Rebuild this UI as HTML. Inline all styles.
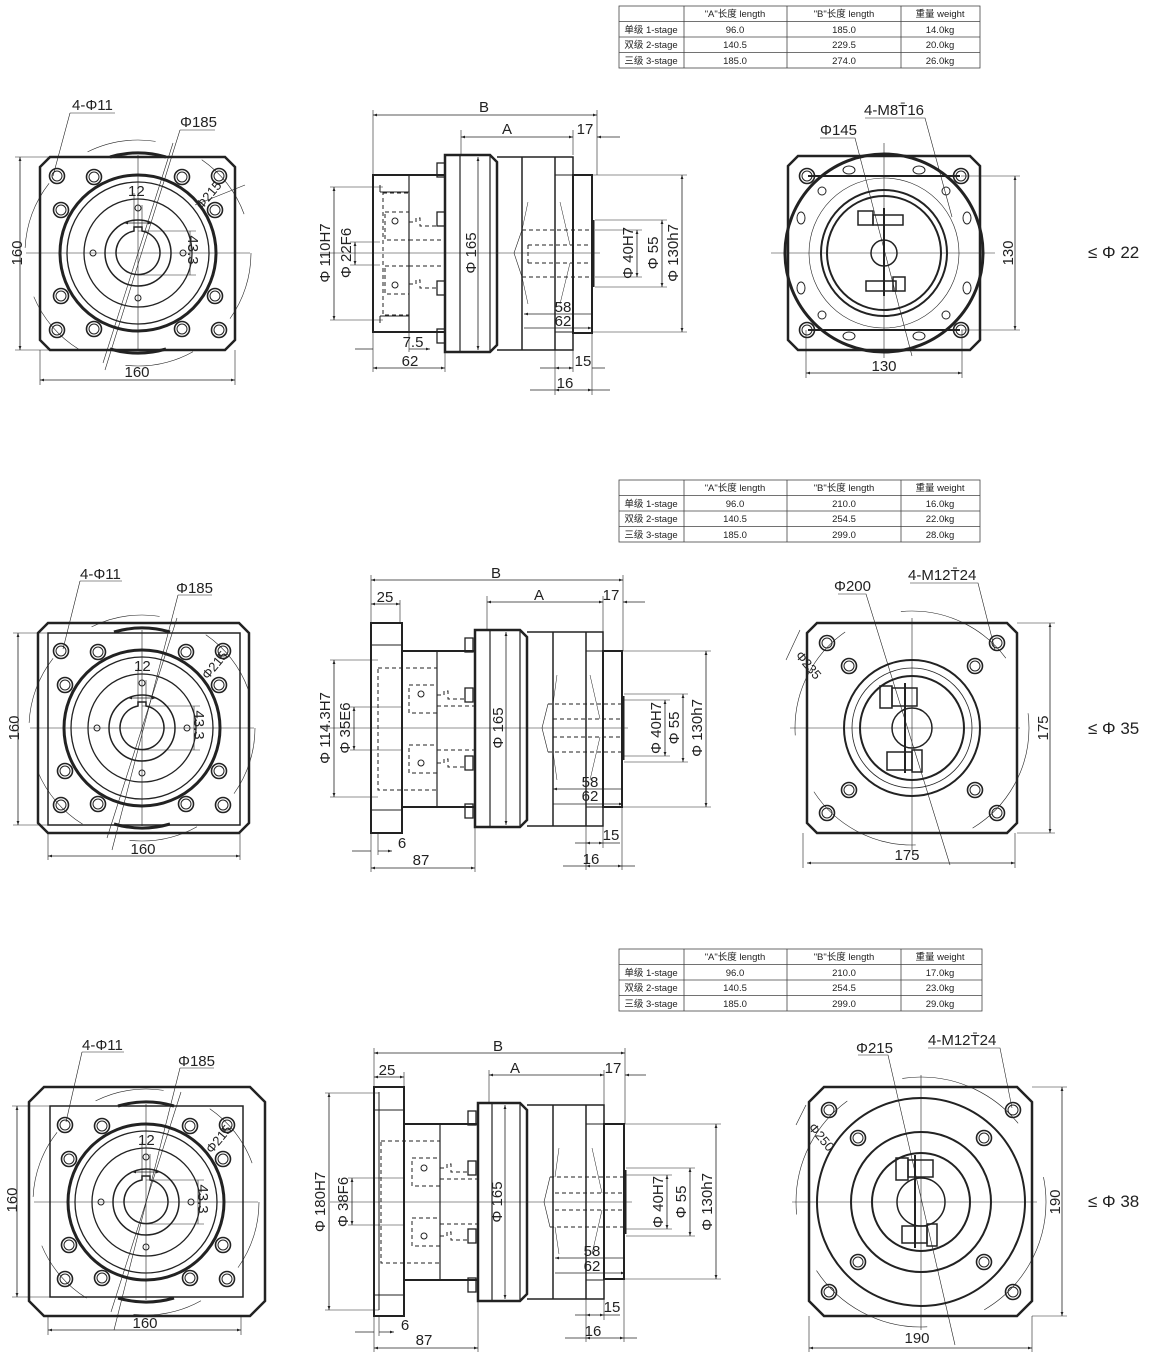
<!DOCTYPE html>
<html><head><meta charset="utf-8"><style>
html,body{margin:0;padding:0;background:#fff;}
svg{display:block;}
text{font-family:"Liberation Sans","Noto Sans CJK SC",sans-serif;fill:#222;}
.t{font-size:15px;}
.tb{font-size:9.5px;}
</style></head><body>
<svg width="1150" height="1360" viewBox="0 0 1150 1360" xmlns="http://www.w3.org/2000/svg">
<defs>
<marker id="ar" viewBox="0 0 10 10" refX="10" refY="5" markerWidth="7" markerHeight="5" orient="auto-start-reverse"><path d="M0,1.5 L10,5 L0,8.5 Z" fill="#222"/></marker>
<g id="bh"><circle r="7.5" fill="none" stroke="#222" stroke-width="1.6"/><circle r="5" fill="none" stroke="#222" stroke-width="1"/></g>
<g id="lv" fill="none" stroke="#222">
<circle r="113" stroke-width="0.6" stroke-dasharray="70 50"/>
<path d="M-28,-96 A100,100 0 0 1 28,-96" stroke-width="3"/>
<path d="M-28,96 A100,100 0 0 0 28,96" stroke-width="3"/>
<circle r="78" stroke-width="3"/>
<circle r="71" stroke-width="1.3"/>
<circle r="54" stroke-width="1.3"/>
<circle r="33" stroke-width="1.5"/>
<path d="M-4,-22 V-26 H4 V-22 A22,22 0 1 1 -4,-22 Z" stroke-width="1.5"/>
<circle cx="0" cy="-45" r="3"/><circle cx="0" cy="45" r="3"/><circle cx="-45" cy="0" r="3"/><circle cx="45" cy="0" r="3"/>
<use href="#bh" x="-81" y="-77"/><use href="#bh" x="81" y="-77"/><use href="#bh" x="-81" y="77"/><use href="#bh" x="81" y="77"/>
<use href="#bh" x="-44" y="-76"/><use href="#bh" x="44" y="-76"/><use href="#bh" x="-44" y="76"/><use href="#bh" x="44" y="76"/>
<use href="#bh" x="-77" y="-43"/><use href="#bh" x="77" y="-43"/><use href="#bh" x="-77" y="43"/><use href="#bh" x="77" y="43"/>
<path d="M-112,0 H112 M0,-98 V98" stroke-width="0.6"/>
<path d="M-14,-30 L14,-30" stroke-width="0.8" marker-start="url(#ar)" marker-end="url(#ar)"/>
<path d="M-4,-26 V-60 M4,-26 V-48" stroke-width="0.6"/>
<path d="M0,-22 H58 M0,22 H58 M52,-22 V22" stroke-width="0.6"/>
<path d="M-35,110 L35,-110" stroke-width="0.6"/>
</g>
</defs>

<!-- TABLES -->
<g stroke="#444" stroke-width="0.8" fill="none">
<rect x="619" y="6" width="361" height="62"/><path d="M619,21.5H980M619,37H980M619,52.5H980M684,6V68M787,6V68M901,6V68"/>
<rect x="619" y="480" width="361" height="62"/><path d="M619,495.5H980M619,511H980M619,526.5H980M684,480V542M787,480V542M901,480V542"/>
<rect x="619" y="949" width="363" height="62"/><path d="M619,964.5H982M619,980H982M619,995.5H982M684,949V1011M787,949V1011M901,949V1011"/>
</g>
<g class="tb" text-anchor="middle">
<text x="735" y="17">"A"长度 length</text><text x="844" y="17">"B"长度  length</text><text x="940" y="17">重量 weight</text>
<text x="651" y="33">单级 1-stage</text><text x="735" y="33">96.0</text><text x="844" y="33">185.0</text><text x="940" y="33">14.0kg</text>
<text x="651" y="48">双级 2-stage</text><text x="735" y="48">140.5</text><text x="844" y="48">229.5</text><text x="940" y="48">20.0kg</text>
<text x="651" y="64">三级 3-stage</text><text x="735" y="64">185.0</text><text x="844" y="64">274.0</text><text x="940" y="64">26.0kg</text>

<text x="735" y="491">"A"长度 length</text><text x="844" y="491">"B"长度  length</text><text x="940" y="491">重量 weight</text>
<text x="651" y="507">单级 1-stage</text><text x="735" y="507">96.0</text><text x="844" y="507">210.0</text><text x="940" y="507">16.0kg</text>
<text x="651" y="522">双级 2-stage</text><text x="735" y="522">140.5</text><text x="844" y="522">254.5</text><text x="940" y="522">22.0kg</text>
<text x="651" y="538">三级 3-stage</text><text x="735" y="538">185.0</text><text x="844" y="538">299.0</text><text x="940" y="538">28.0kg</text>

<text x="735" y="960">"A"长度 length</text><text x="844" y="960">"B"长度  length</text><text x="940" y="960">重量 weight</text>
<text x="651" y="976">单级 1-stage</text><text x="735" y="976">96.0</text><text x="844" y="976">210.0</text><text x="940" y="976">17.0kg</text>
<text x="651" y="991">双级 2-stage</text><text x="735" y="991">140.5</text><text x="844" y="991">254.5</text><text x="940" y="991">23.0kg</text>
<text x="651" y="1007">三级 3-stage</text><text x="735" y="1007">185.0</text><text x="844" y="1007">299.0</text><text x="940" y="1007">29.0kg</text>
</g>

<!-- ================= ROW 1 ================= -->
<g fill="none" stroke="#222">
<path d="M50,157 H225 L235,167 V340 L225,350 H50 L40,340 V167 Z" stroke-width="2.5"/>
<use href="#lv" x="138" y="253"/>
<!-- dims -->
<path d="M20,157 V350" stroke-width="0.8" marker-start="url(#ar)" marker-end="url(#ar)"/>
<path d="M15,157 H50 M15,350 H50" stroke-width="0.6"/>
<path d="M40,380 H235" stroke-width="0.8" marker-start="url(#ar)" marker-end="url(#ar)"/>
<path d="M40,350 V385 M235,350 V385" stroke-width="0.6"/>
<path d="M70,113 H115 M70,113 L53,176" stroke-width="0.6"/>
<path d="M180,130 H215 M180,130 L105,370" stroke-width="0.6"/>
<path d="M195,205 L245,185" stroke-width="0.6"/>
</g>
<g class="t">
<text x="72" y="110">4-Φ11</text><text x="180" y="127">Φ185</text>
<text x="128" y="196">12</text>
<text transform="translate(188,250) rotate(90)" text-anchor="middle">43.3</text>
<text transform="translate(212,198) rotate(-50)" text-anchor="middle" font-size="13">Φ215</text>
<text transform="translate(22,253) rotate(-90)" text-anchor="middle">160</text>
<text x="137" y="377" text-anchor="middle">160</text>
</g>

<!-- middle view row1 -->
<g fill="none" stroke="#222">
<rect x="373" y="175" width="72" height="157" stroke-width="2"/>
<path d="M409,175 V332" stroke-width="1.2"/>
<path d="M380,192 H409 M380,316 H409 M380,185 V192 M380,316 V323" stroke-width="1"/>
<rect x="383" y="193" width="26" height="122" stroke-width="1" stroke-dasharray="4 3"/>
<rect x="385" y="212" width="24" height="28" stroke-width="1" stroke-dasharray="4 3"/>
<rect x="385" y="266" width="24" height="28" stroke-width="1" stroke-dasharray="4 3"/>
<circle cx="395" cy="221" r="3"/><circle cx="395" cy="285" r="3"/>
<path d="M409,222 H416 V218 H420 V226 H437 M409,284 H416 V280 H420 V288 H437 M409,240 H445 M409,266 H445" stroke-width="1" stroke-dasharray="4 3"/>
<rect x="437" y="163" width="8" height="14" stroke-width="1.3"/>
<rect x="437" y="212" width="8" height="14" stroke-width="1.3"/>
<rect x="437" y="281" width="8" height="14" stroke-width="1.3"/>
<rect x="437" y="329" width="8" height="14" stroke-width="1.3"/>
<path d="M445,155 H490 L497,162 V345 L490,352 H445 Z" stroke-width="2.5"/>
<path d="M460,155 V352 M490,155 V352" stroke-width="1.2"/>
<path d="M497,157 H573 V350 H497 M522,157 V350 M555,157 V350" stroke-width="1.5"/>
<path d="M555,175 H573 M555,332 H573" stroke-width="1"/>
<rect x="573" y="175" width="19" height="158" stroke-width="2"/>
<path d="M593,220 V287" stroke-width="3"/>
<path d="M522,230 H592 M522,277 H592 M528,245 H592 M528,263 H592 M528,245 V263" stroke-width="1" stroke-dasharray="4 3"/>
<path d="M522,230 L514,253 L522,277" stroke-width="0.6"/>
<path d="M528,202 L522,230 M528,304 L522,277 M560,202 L570,245 M560,304 L570,263" stroke-width="0.5"/>
<path d="M320,253 H600" stroke-width="0.5"/>
<!-- dims -->
<path d="M373,115 H597" stroke-width="0.8" marker-start="url(#ar)" marker-end="url(#ar)"/>
<path d="M373,110 V175 M597,110 V175 M461,130 V155 M573,130 V155" stroke-width="0.6"/>
<path d="M461,137 H573" stroke-width="0.8" marker-start="url(#ar)" marker-end="url(#ar)"/>
<path d="M597,137 H620" stroke-width="0.8" marker-start="url(#ar)"/>
<path d="M334,187 V320" stroke-width="0.8" marker-start="url(#ar)" marker-end="url(#ar)"/>
<path d="M330,187 H383 M330,320 H383" stroke-width="0.6"/>
<path d="M355,242 V265" stroke-width="0.8" marker-start="url(#ar)" marker-end="url(#ar)"/>
<path d="M350,242 H380 M350,265 H380" stroke-width="0.6"/>
<path d="M478,157 V350" stroke-width="0.8" marker-start="url(#ar)" marker-end="url(#ar)"/>
<path d="M637,230 V277" stroke-width="0.8" marker-start="url(#ar)" marker-end="url(#ar)"/>
<path d="M595,230 H642 M595,277 H642" stroke-width="0.6"/>
<path d="M662,220 V287" stroke-width="0.8" marker-start="url(#ar)" marker-end="url(#ar)"/>
<path d="M595,220 H667 M595,287 H667" stroke-width="0.6"/>
<path d="M682,175 V332" stroke-width="0.8" marker-start="url(#ar)" marker-end="url(#ar)"/>
<path d="M592,175 H687 M592,332 H687" stroke-width="0.6"/>
<path d="M524,314 H592 M524,328 H592" stroke-width="0.8" marker-start="url(#ar)" marker-end="url(#ar)"/>
<path d="M355,349 H373 M409,349 H430" stroke-width="0.8" marker-end="url(#ar)"/>
<path d="M373,332 V372 M409,332 V352 M445,352 V372" stroke-width="0.6"/>
<path d="M373,368 H445" stroke-width="0.8" marker-start="url(#ar)" marker-end="url(#ar)"/>
<path d="M540,368 H555 M592,368 H605" stroke-width="0.8"/>
<path d="M555,368 H573" stroke-width="0.8" marker-start="url(#ar)" marker-end="url(#ar)"/>
<path d="M555,350 V395 M573,350 V372 M592,333 V395" stroke-width="0.6"/>
<path d="M530,390 H555 M592,390 H610" stroke-width="0.8"/>
<path d="M555,390 H592" stroke-width="0.8" marker-start="url(#ar)" marker-end="url(#ar)"/>
</g>
<g class="t">
<text x="484" y="112" text-anchor="middle">B</text><text x="507" y="134" text-anchor="middle">A</text><text x="585" y="134" text-anchor="middle">17</text>
<text transform="translate(330,253) rotate(-90)" text-anchor="middle">Φ 110H7</text>
<text transform="translate(351,253) rotate(-90)" text-anchor="middle">Φ 22F6</text>
<text transform="translate(476,253) rotate(-90)" text-anchor="middle">Φ 165</text>
<text transform="translate(633,253) rotate(-90)" text-anchor="middle">Φ 40H7</text>
<text transform="translate(658,253) rotate(-90)" text-anchor="middle">Φ 55</text>
<text transform="translate(678,253) rotate(-90)" text-anchor="middle">Φ 130h7</text>
<text x="563" y="312" text-anchor="middle">58</text><text x="563" y="326" text-anchor="middle">62</text>
<text x="413" y="347" text-anchor="middle">7.5</text><text x="410" y="366" text-anchor="middle">62</text>
<text x="583" y="366" text-anchor="middle">15</text><text x="565" y="388" text-anchor="middle">16</text>
</g>

<!-- right view row1 -->
<g fill="none" stroke="#222">
<path d="M798,156 H970 L980,166 V340 L970,350 H798 L788,340 V166 Z" stroke-width="2.5"/>
<circle cx="884" cy="253" r="99" stroke-width="3"/>
<path d="M808,176 H960 M808,330 H960" stroke-width="2"/>
<circle cx="884" cy="253" r="75" stroke-width="0.6"/>
<circle cx="884" cy="253" r="63" stroke-width="2"/>
<circle cx="884" cy="253" r="57" stroke-width="2"/>
<circle cx="884" cy="253" r="13" stroke-width="1.5"/>
<rect x="858" y="211" width="15" height="14" stroke-width="1.5"/><rect x="873" y="215" width="30" height="10" stroke-width="1.5"/>
<rect x="866" y="281" width="30" height="10" stroke-width="1.5"/><rect x="893" y="277" width="12" height="14" stroke-width="1.5"/>
<path d="M884,208 V296" stroke-width="2"/>
<use href="#bh" x="807" y="176"/><use href="#bh" x="961" y="176"/><use href="#bh" x="807" y="330"/><use href="#bh" x="961" y="330"/>
<circle cx="822" cy="191" r="4"/><circle cx="946" cy="191" r="4"/><circle cx="822" cy="315" r="4"/><circle cx="946" cy="315" r="4"/>
<ellipse cx="849" cy="170" rx="6" ry="4"/><ellipse cx="919" cy="170" rx="6" ry="4"/><ellipse cx="849" cy="336" rx="6" ry="4"/><ellipse cx="919" cy="336" rx="6" ry="4"/>
<ellipse cx="801" cy="218" rx="4" ry="6"/><ellipse cx="967" cy="218" rx="4" ry="6"/><ellipse cx="801" cy="288" rx="4" ry="6"/><ellipse cx="967" cy="288" rx="4" ry="6"/>
<path d="M771,253 H995 M884,143 V358" stroke-width="0.6"/>
<path d="M820,138 H855 L912,356" stroke-width="0.6"/>
<path d="M865,118 H925 L952,217" stroke-width="0.6"/>
<path d="M1015,176 V330" stroke-width="0.8" marker-start="url(#ar)" marker-end="url(#ar)"/>
<path d="M961,176 H1020 M961,330 H1020" stroke-width="0.6"/>
<path d="M806,373 H962" stroke-width="0.8" marker-start="url(#ar)" marker-end="url(#ar)"/>
<path d="M806,330 V378 M962,330 V378" stroke-width="0.6"/>
</g>
<g class="t">
<text x="864" y="115">4-M8T̄16</text><text x="820" y="135">Φ145</text>
<text transform="translate(1013,253) rotate(-90)" text-anchor="middle">130</text>
<text x="884" y="371" text-anchor="middle">130</text>
<text x="1088" y="258" font-size="17">≤ Φ 22</text>
</g>

<!-- ================= ROW 2 ================= -->
<g fill="none" stroke="#222">
<path d="M48,623 H239 L249,633 V823 L239,833 H48 L38,823 V633 Z" stroke-width="2.5"/>
<rect x="48" y="633" width="192" height="192" stroke-width="1.5"/>
<use href="#lv" x="142" y="728"/>
<path d="M18,633 V825" stroke-width="0.8" marker-start="url(#ar)" marker-end="url(#ar)"/>
<path d="M13,633 H48 M13,825 H48" stroke-width="0.6"/>
<path d="M48,856 H240" stroke-width="0.8" marker-start="url(#ar)" marker-end="url(#ar)"/>
<path d="M48,833 V860 M240,833 V860" stroke-width="0.6"/>
<path d="M80,581 H122 M80,581 L63,649" stroke-width="0.6"/>
<path d="M178,595 H212 M178,595 L112,850" stroke-width="0.6"/>
</g>
<g class="t">
<text x="80" y="579">4-Φ11</text><text x="176" y="593">Φ185</text>
<text x="134" y="671">12</text>
<text transform="translate(194,725) rotate(90)" text-anchor="middle">43.3</text>
<text transform="translate(218,668) rotate(-50)" text-anchor="middle" font-size="13">Φ215</text>
<text transform="translate(19,728) rotate(-90)" text-anchor="middle">160</text>
<text x="143" y="854" text-anchor="middle">160</text>
</g>

<g fill="none" stroke="#222">
<rect x="371" y="623" width="31" height="210" stroke-width="2"/>
<path d="M371,645 H402 M371,810 H402" stroke-width="1"/>
<rect x="402" y="651" width="73" height="156" stroke-width="2"/>
<path d="M437,651 V807" stroke-width="1.2"/>
<rect x="378" y="668" width="59" height="122" stroke-width="1" stroke-dasharray="4 3"/>
<rect x="409" y="685" width="28" height="28" stroke-width="1" stroke-dasharray="4 3"/>
<rect x="409" y="745" width="28" height="28" stroke-width="1" stroke-dasharray="4 3"/>
<circle cx="421" cy="694" r="3"/><circle cx="421" cy="763" r="3"/>
<path d="M437,695 H444 V691 H448 V699 H466 M437,763 H444 V759 H448 V767 H466 M437,706 H475 M437,750 H475" stroke-width="1" stroke-dasharray="4 3"/>
<rect x="465" y="638" width="8" height="14" stroke-width="1.3"/>
<rect x="465" y="688" width="8" height="14" stroke-width="1.3"/>
<rect x="465" y="756" width="8" height="14" stroke-width="1.3"/>
<rect x="465" y="804" width="8" height="14" stroke-width="1.3"/>
<path d="M475,630 H520 L527,637 V820 L520,827 H475 Z" stroke-width="2.5"/>
<path d="M490,630 V827 M520,630 V827" stroke-width="1.2"/>
<path d="M527,632 H603 V826 H527 M553,632 V826 M586,632 V826" stroke-width="1.5"/>
<path d="M586,651 H603 M586,807 H603" stroke-width="1"/>
<rect x="603" y="651" width="19" height="156" stroke-width="2"/>
<path d="M623,696 V760" stroke-width="3"/>
<path d="M548,704 H622 M548,752 H622 M553,719 H622 M553,737 H622" stroke-width="1" stroke-dasharray="4 3"/>
<path d="M548,704 L542,728 L548,752" stroke-width="0.6"/>
<path d="M557,675 L553,704 M557,780 L553,752 M590,675 L600,719 M590,780 L600,737" stroke-width="0.5"/>
<path d="M320,728 H628" stroke-width="0.5"/>
<path d="M371,580 H623" stroke-width="0.8" marker-start="url(#ar)" marker-end="url(#ar)"/>
<path d="M371,575 V623 M623,575 V651 M487,596 V630 M603,596 V632 M400,600 V623" stroke-width="0.6"/>
<path d="M487,602 H603" stroke-width="0.8" marker-start="url(#ar)" marker-end="url(#ar)"/>
<path d="M371,604 H400" stroke-width="0.8" marker-start="url(#ar)" marker-end="url(#ar)"/>
<path d="M623,602 H645" stroke-width="0.8" marker-start="url(#ar)"/>
<path d="M334,660 V797" stroke-width="0.8" marker-start="url(#ar)" marker-end="url(#ar)"/>
<path d="M330,660 H378 M330,797 H378" stroke-width="0.6"/>
<path d="M354,707 V750" stroke-width="0.8" marker-start="url(#ar)" marker-end="url(#ar)"/>
<path d="M350,707 H402 M350,750 H402" stroke-width="0.6"/>
<path d="M506,632 V825" stroke-width="0.8" marker-start="url(#ar)" marker-end="url(#ar)"/>
<path d="M665,700 V756" stroke-width="0.8" marker-start="url(#ar)" marker-end="url(#ar)"/>
<path d="M624,700 H670 M624,756 H670" stroke-width="0.6"/>
<path d="M683,694 V762" stroke-width="0.8" marker-start="url(#ar)" marker-end="url(#ar)"/>
<path d="M624,694 H688 M624,762 H688" stroke-width="0.6"/>
<path d="M706,651 V807" stroke-width="0.8" marker-start="url(#ar)" marker-end="url(#ar)"/>
<path d="M622,651 H711 M622,807 H711" stroke-width="0.6"/>
<path d="M553,789 H623 M553,804 H623" stroke-width="0.8" marker-start="url(#ar)" marker-end="url(#ar)"/>
<path d="M352,851 H371 M378,851 H392" stroke-width="0.8" marker-end="url(#ar)"/>
<path d="M371,833 V872 M378,833 V855 M475,827 V872" stroke-width="0.6"/>
<path d="M371,868 H475" stroke-width="0.8" marker-start="url(#ar)" marker-end="url(#ar)"/>
<path d="M575,843 H586 M603,843 H620" stroke-width="0.8"/>
<path d="M586,843 H603" stroke-width="0.8" marker-start="url(#ar)" marker-end="url(#ar)"/>
<path d="M586,826 V870 M603,826 V848 M622,807 V870" stroke-width="0.6"/>
<path d="M563,866 H586 M622,866 H635" stroke-width="0.8"/>
<path d="M586,866 H622" stroke-width="0.8" marker-start="url(#ar)" marker-end="url(#ar)"/>
</g>
<g class="t">
<text x="496" y="578" text-anchor="middle">B</text><text x="539" y="600" text-anchor="middle">A</text><text x="611" y="600" text-anchor="middle">17</text>
<text x="385" y="602" text-anchor="middle">25</text>
<text transform="translate(330,728) rotate(-90)" text-anchor="middle">Φ 114.3H7</text>
<text transform="translate(350,728) rotate(-90)" text-anchor="middle">Φ 35E6</text>
<text transform="translate(503,728) rotate(-90)" text-anchor="middle">Φ 165</text>
<text transform="translate(661,728) rotate(-90)" text-anchor="middle">Φ 40H7</text>
<text transform="translate(679,728) rotate(-90)" text-anchor="middle">Φ 55</text>
<text transform="translate(702,728) rotate(-90)" text-anchor="middle">Φ 130h7</text>
<text x="590" y="787" text-anchor="middle">58</text><text x="590" y="801" text-anchor="middle">62</text>
<text x="402" y="848" text-anchor="middle">6</text><text x="421" y="865" text-anchor="middle">87</text>
<text x="611" y="840" text-anchor="middle">15</text><text x="591" y="864" text-anchor="middle">16</text>
</g>

<g fill="none" stroke="#222">
<path d="M817,623 H1007 L1017,633 V823 L1007,833 H817 L807,823 V633 Z" stroke-width="2.5"/>
<circle cx="912" cy="728" r="117" stroke-width="0.6" stroke-dasharray="120 60"/>
<circle cx="912" cy="728" r="68" stroke-width="2"/>
<circle cx="912" cy="728" r="60" stroke-width="0.8"/>
<circle cx="912" cy="728" r="52" stroke-width="2"/>
<circle cx="912" cy="728" r="20" stroke-width="1.5"/>
<rect x="880" y="686" width="12" height="22" stroke-width="1.5"/><rect x="892" y="688" width="25" height="18" stroke-width="1.5"/>
<rect x="887" y="752" width="25" height="18" stroke-width="1.5"/><rect x="912" y="750" width="10" height="22" stroke-width="1.5"/>
<path d="M905,683 V773" stroke-width="2"/>
<use href="#bh" x="827" y="643"/><use href="#bh" x="997" y="643"/><use href="#bh" x="827" y="813"/><use href="#bh" x="997" y="813"/>
<use href="#bh" x="849" y="666"/><use href="#bh" x="975" y="666"/><use href="#bh" x="849" y="790"/><use href="#bh" x="975" y="790"/>
<path d="M790,728 H1020 M912,618 V850" stroke-width="0.6"/>
<path d="M838,594 H866 L950,865" stroke-width="0.6"/>
<path d="M910,583 H978 L995,650" stroke-width="0.6"/>
<path d="M786,660 L800,630" stroke-width="0.6"/>
<path d="M1050,623 V833" stroke-width="0.8" marker-start="url(#ar)" marker-end="url(#ar)"/>
<path d="M1017,623 H1055 M1017,833 H1055" stroke-width="0.6"/>
<path d="M807,863 H1015" stroke-width="0.8" marker-start="url(#ar)" marker-end="url(#ar)"/>
<path d="M803,833 V868 M1015,833 V868" stroke-width="0.6"/>
</g>
<g class="t">
<text x="908" y="580">4-M12T̄24</text><text x="834" y="591">Φ200</text>
<text transform="translate(805,668) rotate(50)" text-anchor="middle" font-size="13">Φ235</text>
<text transform="translate(1048,728) rotate(-90)" text-anchor="middle">175</text>
<text x="907" y="860" text-anchor="middle">175</text>
<text x="1088" y="734" font-size="17">≤ Φ 35</text>
</g>

<!-- ================= ROW 3 ================= -->
<g fill="none" stroke="#222">
<path d="M44,1087 H250 L265,1102 V1301 L250,1316 H44 L29,1301 V1102 Z" stroke-width="2.5"/>
<rect x="50" y="1106" width="193" height="191" stroke-width="1.5"/>
<use href="#lv" x="146" y="1202"/>
<path d="M17,1106 V1297" stroke-width="0.8" marker-start="url(#ar)" marker-end="url(#ar)"/>
<path d="M12,1106 H50 M12,1297 H50" stroke-width="0.6"/>
<path d="M48,1330 H241" stroke-width="0.8" marker-start="url(#ar)" marker-end="url(#ar)"/>
<path d="M48,1316 V1335 M241,1316 V1335" stroke-width="0.6"/>
<path d="M82,1052 H124 M82,1052 L66,1122" stroke-width="0.6"/>
<path d="M180,1068 H214 M180,1068 L114,1330" stroke-width="0.6"/>
</g>
<g class="t">
<text x="82" y="1050">4-Φ11</text><text x="178" y="1066">Φ185</text>
<text x="138" y="1145">12</text>
<text transform="translate(198,1199) rotate(90)" text-anchor="middle">43.3</text>
<text transform="translate(222,1142) rotate(-50)" text-anchor="middle" font-size="13">Φ215</text>
<text transform="translate(17,1200) rotate(-90)" text-anchor="middle">160</text>
<text x="145" y="1328" text-anchor="middle">160</text>
</g>

<g fill="none" stroke="#222">
<rect x="374" y="1087" width="30" height="229" stroke-width="2"/>
<path d="M374,1110 H404 M374,1295 H404 M379,1092 V1310" stroke-width="1"/>
<rect x="404" y="1124" width="74" height="156" stroke-width="2"/>
<path d="M440,1124 V1280" stroke-width="1.2"/>
<rect x="381" y="1141" width="59" height="122" stroke-width="1" stroke-dasharray="4 3"/>
<rect x="412" y="1158" width="28" height="28" stroke-width="1" stroke-dasharray="4 3"/>
<rect x="412" y="1218" width="28" height="28" stroke-width="1" stroke-dasharray="4 3"/>
<circle cx="424" cy="1168" r="3"/><circle cx="424" cy="1236" r="3"/>
<path d="M440,1168 H447 V1164 H451 V1172 H468 M440,1236 H447 V1232 H451 V1240 H468 M440,1179 H478 M440,1224 H478" stroke-width="1" stroke-dasharray="4 3"/>
<rect x="468" y="1111" width="8" height="14" stroke-width="1.3"/>
<rect x="468" y="1161" width="8" height="14" stroke-width="1.3"/>
<rect x="468" y="1229" width="8" height="14" stroke-width="1.3"/>
<rect x="468" y="1278" width="8" height="14" stroke-width="1.3"/>
<path d="M478,1103 H520 L527,1110 V1294 L520,1301 H478 Z" stroke-width="2.5"/>
<path d="M492,1103 V1301 M520,1103 V1301" stroke-width="1.2"/>
<path d="M527,1105 H604 V1299 H527 M553,1105 V1299 M586,1105 V1299" stroke-width="1.5"/>
<path d="M586,1124 H604 M586,1280 H604" stroke-width="1"/>
<rect x="604" y="1124" width="20" height="155" stroke-width="2"/>
<path d="M625,1170 V1234" stroke-width="3"/>
<path d="M550,1177 H624 M550,1227 H624 M555,1193 H624 M555,1210 H624" stroke-width="1" stroke-dasharray="4 3"/>
<path d="M550,1177 L544,1202 L550,1227" stroke-width="0.6"/>
<path d="M559,1148 L555,1177 M559,1254 L555,1227 M592,1148 L602,1193 M592,1254 L602,1210" stroke-width="0.5"/>
<path d="M330,1202 H632" stroke-width="0.5"/>
<path d="M374,1053 H625" stroke-width="0.8" marker-start="url(#ar)" marker-end="url(#ar)"/>
<path d="M374,1048 V1087 M625,1048 V1124 M489,1070 V1103 M604,1070 V1105 M404,1072 V1087" stroke-width="0.6"/>
<path d="M489,1075 H604" stroke-width="0.8" marker-start="url(#ar)" marker-end="url(#ar)"/>
<path d="M374,1077 H404" stroke-width="0.8" marker-start="url(#ar)" marker-end="url(#ar)"/>
<path d="M625,1075 H646" stroke-width="0.8" marker-start="url(#ar)"/>
<path d="M329,1093 V1310" stroke-width="0.8" marker-start="url(#ar)" marker-end="url(#ar)"/>
<path d="M325,1093 H379 M325,1310 H379" stroke-width="0.6"/>
<path d="M352,1178 V1225" stroke-width="0.8" marker-start="url(#ar)" marker-end="url(#ar)"/>
<path d="M348,1178 H404 M348,1225 H404" stroke-width="0.6"/>
<path d="M505,1105 V1299" stroke-width="0.8" marker-start="url(#ar)" marker-end="url(#ar)"/>
<path d="M667,1175 V1229" stroke-width="0.8" marker-start="url(#ar)" marker-end="url(#ar)"/>
<path d="M626,1175 H672 M626,1229 H672" stroke-width="0.6"/>
<path d="M690,1168 V1236" stroke-width="0.8" marker-start="url(#ar)" marker-end="url(#ar)"/>
<path d="M626,1168 H695 M626,1236 H695" stroke-width="0.6"/>
<path d="M716,1124 V1279" stroke-width="0.8" marker-start="url(#ar)" marker-end="url(#ar)"/>
<path d="M624,1124 H721 M624,1279 H721" stroke-width="0.6"/>
<path d="M555,1258 H625 M555,1273 H625" stroke-width="0.8" marker-start="url(#ar)" marker-end="url(#ar)"/>
<path d="M355,1332 H374 M379,1332 H394" stroke-width="0.8" marker-end="url(#ar)"/>
<path d="M374,1316 V1352 M379,1316 V1336 M478,1301 V1352" stroke-width="0.6"/>
<path d="M374,1348 H478" stroke-width="0.8" marker-start="url(#ar)" marker-end="url(#ar)"/>
<path d="M575,1315 H586 M604,1315 H620" stroke-width="0.8"/>
<path d="M586,1315 H604" stroke-width="0.8" marker-start="url(#ar)" marker-end="url(#ar)"/>
<path d="M586,1299 V1342 M604,1299 V1320 M624,1279 V1342" stroke-width="0.6"/>
<path d="M565,1338 H586 M624,1338 H637" stroke-width="0.8"/>
<path d="M586,1338 H624" stroke-width="0.8" marker-start="url(#ar)" marker-end="url(#ar)"/>
</g>
<g class="t">
<text x="498" y="1051" text-anchor="middle">B</text><text x="515" y="1073" text-anchor="middle">A</text><text x="613" y="1073" text-anchor="middle">17</text>
<text x="387" y="1075" text-anchor="middle">25</text>
<text transform="translate(325,1202) rotate(-90)" text-anchor="middle">Φ 180H7</text>
<text transform="translate(348,1202) rotate(-90)" text-anchor="middle">Φ 38F6</text>
<text transform="translate(502,1202) rotate(-90)" text-anchor="middle">Φ 165</text>
<text transform="translate(663,1202) rotate(-90)" text-anchor="middle">Φ 40H7</text>
<text transform="translate(686,1202) rotate(-90)" text-anchor="middle">Φ 55</text>
<text transform="translate(712,1202) rotate(-90)" text-anchor="middle">Φ 130h7</text>
<text x="592" y="1256" text-anchor="middle">58</text><text x="592" y="1271" text-anchor="middle">62</text>
<text x="405" y="1330" text-anchor="middle">6</text><text x="424" y="1345" text-anchor="middle">87</text>
<text x="612" y="1312" text-anchor="middle">15</text><text x="593" y="1336" text-anchor="middle">16</text>
</g>

<g fill="none" stroke="#222">
<path d="M824,1087 H1017 L1032,1102 V1301 L1017,1316 H824 L809,1301 V1102 Z" stroke-width="2.5"/>
<circle cx="921" cy="1202" r="125" stroke-width="0.6" stroke-dasharray="130 60"/>
<circle cx="921" cy="1202" r="104" stroke-width="2"/>
<circle cx="921" cy="1202" r="70" stroke-width="2"/>
<circle cx="921" cy="1202" r="49" stroke-width="2"/>
<circle cx="921" cy="1202" r="24" stroke-width="1.5"/>
<rect x="896" y="1158" width="12" height="22" stroke-width="1.5"/><rect x="908" y="1160" width="25" height="17" stroke-width="1.5"/>
<rect x="902" y="1226" width="25" height="17" stroke-width="1.5"/><rect x="927" y="1224" width="10" height="22" stroke-width="1.5"/>
<path d="M915,1155 V1248" stroke-width="2"/>
<use href="#bh" x="829" y="1110"/><use href="#bh" x="1013" y="1110"/><use href="#bh" x="829" y="1292"/><use href="#bh" x="1013" y="1292"/>
<use href="#bh" x="858" y="1138"/><use href="#bh" x="984" y="1138"/><use href="#bh" x="858" y="1262"/><use href="#bh" x="984" y="1262"/>
<path d="M792,1202 H1037 M921,1075 V1330" stroke-width="0.6"/>
<path d="M858,1055 H888 L955,1345" stroke-width="0.6"/>
<path d="M928,1048 H1000 L1012,1108" stroke-width="0.6"/>
<path d="M796,1125 L806,1105" stroke-width="0.6"/>
<path d="M1062,1087 V1316" stroke-width="0.8" marker-start="url(#ar)" marker-end="url(#ar)"/>
<path d="M1032,1087 H1067 M1032,1316 H1067" stroke-width="0.6"/>
<path d="M809,1348 H1032" stroke-width="0.8" marker-start="url(#ar)" marker-end="url(#ar)"/>
<path d="M809,1316 V1352 M1032,1316 V1352" stroke-width="0.6"/>
</g>
<g class="t">
<text x="928" y="1045">4-M12T̄24</text><text x="856" y="1053">Φ215</text>
<text transform="translate(818,1140) rotate(50)" text-anchor="middle" font-size="13">Φ250</text>
<text transform="translate(1060,1202) rotate(-90)" text-anchor="middle">190</text>
<text x="917" y="1343" text-anchor="middle">190</text>
<text x="1088" y="1207" font-size="17">≤ Φ 38</text>
</g>
</svg>
</body></html>
